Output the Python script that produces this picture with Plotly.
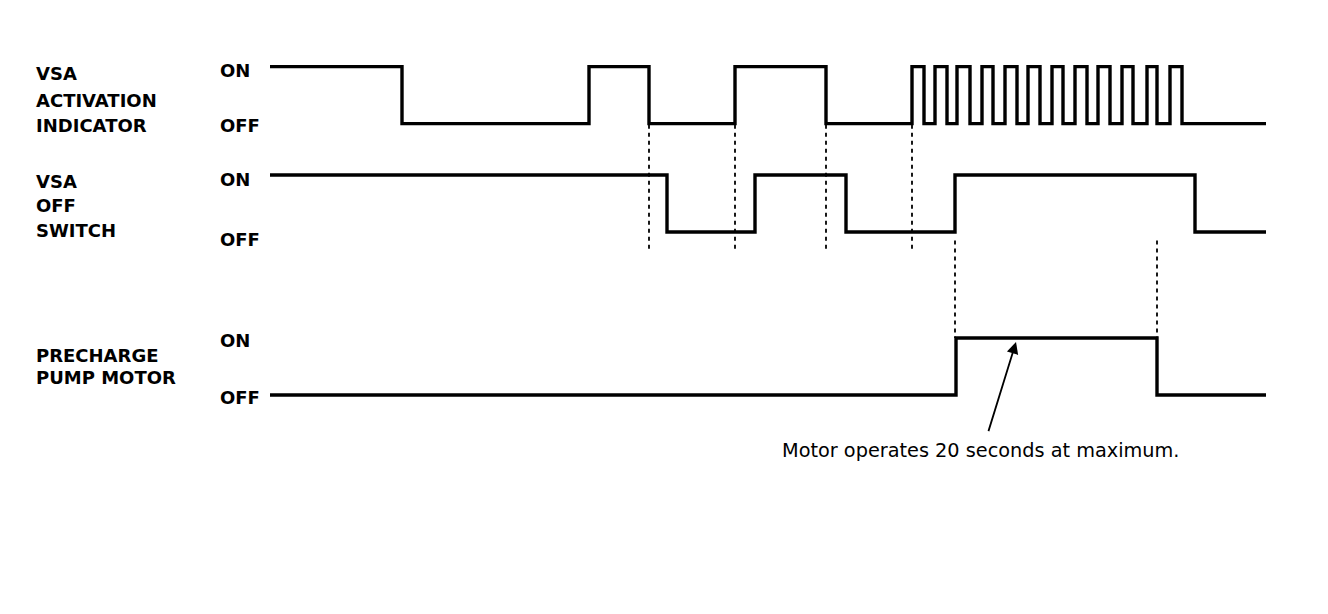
import plotly.graph_objects as go

# ---------------- data ----------------
T_START, T_END = 270, 1266

# VSA activation indicator: initial state and edge times (toggle at each)
indicator_init = 1
indicator_edges = [402, 589, 649, 735, 826,
                   912, 924, 935, 947, 957, 970, 982, 993, 1005, 1017, 1028, 1040,
                   1052, 1063, 1075, 1087, 1098, 1110, 1122, 1133, 1147, 1157, 1170, 1182]

# VSA OFF switch
switch_init = 1
switch_edges = [667, 755, 846, 955, 1195]

# Precharge pump motor
pump_init = 0
pump_edges = [956, 1157]

signal_names = [["VSA", "ACTIVATION", "INDICATOR"], ["VSA", "OFF", "SWITCH"], ["PRECHARGE", "PUMP MOTOR"]]
state_labels = ["ON", "OFF"]

# dotted reference lines
guide_upper = [649, 735, 826, 912]
guide_lower = [955, 1157]

note_text = "Motor operates 20 seconds at maximum."

# ---------------- layout helpers ----------------
lane_base = [4.76, 2.86, 0.0]   # OFF level of each lane; ON = base + 1


def step_xy(init, edges, base):
    xs, ys = [T_START], [base + init]
    s = init
    for e in edges:
        s = 1 - s
        xs.append(e)
        ys.append(base + s)
    xs.append(T_END)
    ys.append(base + s)
    return xs, ys


fig = go.Figure()
for init, edges, base in [(indicator_init, indicator_edges, lane_base[0]),
                          (switch_init, switch_edges, lane_base[1]),
                          (pump_init, pump_edges, lane_base[2])]:
    xs, ys = step_xy(init, edges, base)
    fig.add_trace(go.Scatter(x=xs, y=ys, mode="lines", line_shape="hv",
                             line=dict(color="black", width=3.4), hoverinfo="skip",
                             showlegend=False))

# dotted guides
for t in guide_upper:
    fig.add_trace(go.Scatter(x=[t, t], y=[lane_base[0] - 0.02, lane_base[1] - 0.32], mode="lines",
                             line=dict(color="black", width=1.8, dash="4px,4px"),
                             hoverinfo="skip", showlegend=False))
for t in guide_lower:
    fig.add_trace(go.Scatter(x=[t, t], y=[lane_base[1] - 0.15, lane_base[2] + 1.0], mode="lines",
                             line=dict(color="black", width=1.8, dash="4px,4px"),
                             hoverinfo="skip", showlegend=False))

font_b = dict(family="DejaVu Sans, sans-serif", size=18, color="black")
ann = []
# signal names
name_offsets = [[0.88, 0.41, -0.03], [0.88, 0.46, 0.02], [0.7, 0.3]]
for names, offs, base in zip(signal_names, name_offsets, lane_base):
    for n, o in zip(names, offs):
        ann.append(dict(x=34, y=base + o, xref="x", yref="y", text="<b>%s</b>" % n,
                        showarrow=False, xanchor="left", yanchor="middle", font=font_b))
# ON / OFF labels
on_off_offsets = [(0.94, -0.03), (0.92, -0.14), (0.96, -0.04)]
for (on_o, off_o), base in zip(on_off_offsets, lane_base):
    ann.append(dict(x=218, y=base + on_o, xref="x", yref="y", text="<b>%s</b>" % state_labels[0],
                    showarrow=False, xanchor="left", yanchor="middle", font=font_b))
    ann.append(dict(x=218, y=base + off_o, xref="x", yref="y", text="<b>%s</b>" % state_labels[1],
                    showarrow=False, xanchor="left", yanchor="middle", font=font_b))

# note and arrow
ann.append(dict(x=980, y=-0.97, xref="x", yref="y", text=note_text, showarrow=False,
                xanchor="center", yanchor="middle",
                font=dict(family="DejaVu Sans, sans-serif", size=19.3, color="black")))
ann.append(dict(x=1016, y=0.93, xref="x", yref="y", ax=988, ay=-0.66, axref="x", ayref="y",
                text="", showarrow=True, arrowhead=2, arrowsize=1.3, arrowwidth=1.8,
                arrowcolor="black"))

fig.update_layout(
    width=1328, height=614,
    margin=dict(l=0, r=0, t=0, b=0),
    paper_bgcolor="white", plot_bgcolor="white",
    xaxis=dict(range=[8, 1336], visible=False, fixedrange=True),
    yaxis=dict(range=[-3.982, 6.789], visible=False, fixedrange=True),
    annotations=ann,
)

fig.write_html("out.html")
